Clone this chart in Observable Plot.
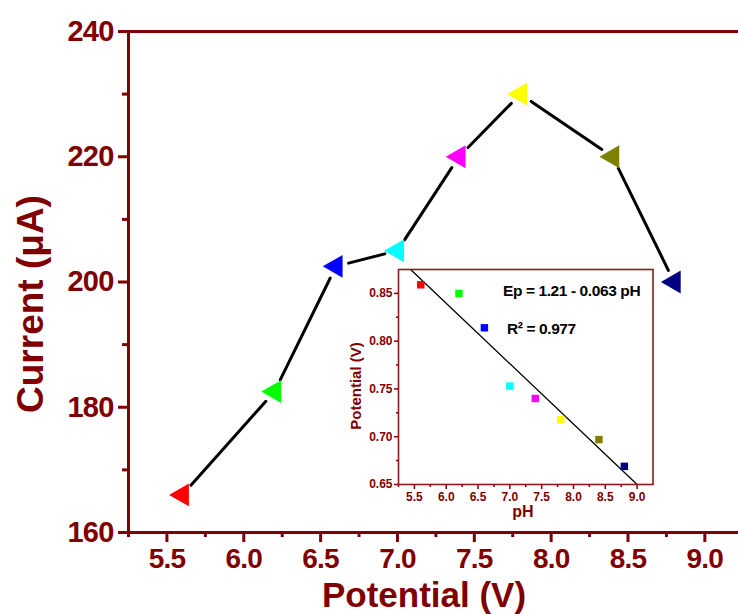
<!DOCTYPE html>
<html>
<head>
<meta charset="utf-8">
<script src="https://cdn.jsdelivr.net/npm/d3@7"></script>
<script src="https://cdn.jsdelivr.net/npm/@observablehq/plot@0.6"></script>
<style>
  html, body { margin: 0; padding: 0; background: white; }
  #wrap { position: relative; width: 738px; height: 614px; overflow: hidden; background: white; }
  #wrap svg { position: absolute; }
  #inset { left: 340px; top: 255px; }
</style>
</head>
<body>
<div id="wrap"></div>
<script>
// ---------- data ----------
const pH = [5.6, 6.2, 6.6, 7.0, 7.4, 7.8, 8.4, 8.8];
const current = [166, 182.5, 202.5, 205, 220, 230, 220, 200];
const pointColors = ["#ff0000", "#00ff00", "#0000ff", "#00ffff", "#ff00ff", "#ffff00", "#808000", "#000080"];
const peakPotential = [0.859, 0.850, 0.814, 0.753, 0.740, 0.718, 0.697, 0.669];
const fitPH = [5.44, 9.0];
const fitPotential = [0.875, 0.65];

const xTicks = [5.5, 6.0, 6.5, 7.0, 7.5, 8.0, 8.5, 9.0];
const xMinorTicks = [5.25, 5.75, 6.25, 6.75, 7.25, 7.75, 8.25, 8.75];
const yTicks = [160, 180, 200, 220, 240];
const yMinorTicks = [170, 190, 210, 230];
const insetYTicks = [0.65, 0.70, 0.75, 0.80, 0.85];
const insetYMinorTicks = [0.675, 0.725, 0.775, 0.825];

const mainTitleX = "Potential (V)";
const mainTitleY = "Current (μA)";
const insetTitleX = "pH";
const insetTitleY = "Potential (V)";
const eqText = "Ep = 1.21 - 0.063 pH";
const r2Text = "R² = 0.977";

// ---------- styles ----------
const maroon = "#800000";
const font = "'Liberation Sans', Arial, Helvetica, sans-serif";

const points = pH.map((x, i) => ({x, y: current[i], c: pointColors[i], p: peakPotential[i]}));
const segs = points.slice(0, -1).map((d, i) => ({x1: d.x, y1: d.y, x2: points[i + 1].x, y2: points[i + 1].y}));
const fit = fitPH.map((x, i) => ({x, y: fitPotential[i]}));

// ---------- main chart ----------
const main = Plot.plot({
  width: 738,
  height: 614,
  marginLeft: 128,
  marginRight: 0,
  marginTop: 31,
  marginBottom: 82,
  style: {fontFamily: font, background: "white"},
  x: {domain: [5.25, 9.219]},
  y: {domain: [160, 240]},
  color: {type: "identity"},
  marks: [
    Plot.axisX(xMinorTicks, {tickSize: 5, tickFormat: () => "", color: maroon, strokeWidth: 3, label: null}),
    Plot.axisX(xTicks, {tickSize: 10, tickPadding: 6, tickFormat: d3.format(".1f"), fontSize: 28, fontWeight: "bold", color: maroon, strokeWidth: 3, label: null}),
    Plot.axisY(yMinorTicks, {tickSize: 6, tickFormat: () => "", color: maroon, strokeWidth: 3, label: null}),
    Plot.axisY(yTicks, {tickSize: 10, tickPadding: 5, tickFormat: d3.format("d"), fontSize: 29, fontWeight: "bold", color: maroon, strokeWidth: 3, label: null}),
    Plot.ruleX([5.25], {stroke: maroon, strokeWidth: 3}),
    Plot.ruleY([160, 240], {stroke: maroon, strokeWidth: 3}),
    Plot.arrow(segs, {x1: "x1", y1: "y1", x2: "x2", y2: "y2", headLength: 0, insetStart: 13, insetEnd: 13, stroke: "black", strokeWidth: 3, bend: 0}),
    Plot.dot(points, {x: "x", y: "y", fill: "c", symbol: "triangle", r: 8.5, rotate: -90, stroke: "none"})
  ]
});
document.getElementById("wrap").appendChild(main);
const ms = d3.select(main);
ms.selectAll("[aria-label='y-axis tick label'] text, [aria-label='x-axis tick label'] text").attr("letter-spacing", -0.8);
ms.append("text").attr("x", 424).attr("y", 607).attr("text-anchor", "middle")
  .attr("font-family", font).attr("font-weight", "bold").attr("font-size", 35).attr("fill", maroon)
  .text(mainTitleX);
ms.append("text").attr("transform", "translate(43,304) rotate(-90)").attr("text-anchor", "middle")
  .attr("font-family", font).attr("font-weight", "bold").attr("font-size", 37).attr("fill", maroon)
  .text(mainTitleY);

// ---------- inset ----------
const inset = Plot.plot({
  width: 320,
  height: 270,
  marginLeft: 58,
  marginRight: 7.5,
  marginTop: 14,
  marginBottom: 41,
  style: {fontFamily: font, background: "transparent"},
  x: {domain: [5.25, 9.25]},
  y: {domain: [0.65, 0.875]},
  color: {type: "identity"},
  marks: [
    Plot.frame({fill: "white", stroke: "none"}),
    Plot.axisX(xMinorTicks, {tickSize: 3, tickFormat: () => "", color: maroon, strokeWidth: 1.5, label: null}),
    Plot.axisX(xTicks, {tickSize: 5, tickPadding: 3, tickFormat: d3.format(".1f"), fontSize: 12, fontWeight: "bold", color: maroon, strokeWidth: 1.5, label: null}),
    Plot.axisY(insetYMinorTicks, {tickSize: 2, tickFormat: () => "", color: maroon, strokeWidth: 1.5, label: null}),
    Plot.axisY(insetYTicks, {tickSize: 4, tickPadding: 2, tickFormat: d3.format(".2f"), fontSize: 12, fontWeight: "bold", color: maroon, strokeWidth: 1.5, label: null}),
    Plot.line(fit, {x: "x", y: "y", stroke: "black", strokeWidth: 1.3}),
    Plot.dot(points, {x: "x", y: "p", fill: "c", symbol: "square", r: 4.2, stroke: "none"}),
    Plot.frame({stroke: "#8b1a1a", strokeWidth: 1.6})
  ]
});
inset.id = "inset";
document.getElementById("wrap").appendChild(inset);
const is = d3.select(inset);
is.append("text").attr("x", 183).attr("y", 262).attr("text-anchor", "middle")
  .attr("font-family", font).attr("font-weight", "bold").attr("font-size", 16).attr("fill", maroon)
  .text(insetTitleX);
is.append("text").attr("transform", "translate(21,131) rotate(-90)").attr("text-anchor", "middle")
  .attr("font-family", font).attr("font-weight", "bold").attr("font-size", 15).attr("fill", maroon)
  .text(insetTitleY);
is.append("text").attr("x", 163).attr("y", 41).attr("text-anchor", "start")
  .attr("font-family", font).attr("font-weight", "bold").attr("font-size", 15.5).attr("fill", "black")
  .attr("letter-spacing", -0.4)
  .text(eqText);
is.append("text").attr("x", 167).attr("y", 79).attr("text-anchor", "start")
  .attr("font-family", font).attr("font-weight", "bold").attr("font-size", 15.5).attr("fill", "black")
  .attr("letter-spacing", -0.4)
  .text(r2Text);
</script>
</body>
</html>
